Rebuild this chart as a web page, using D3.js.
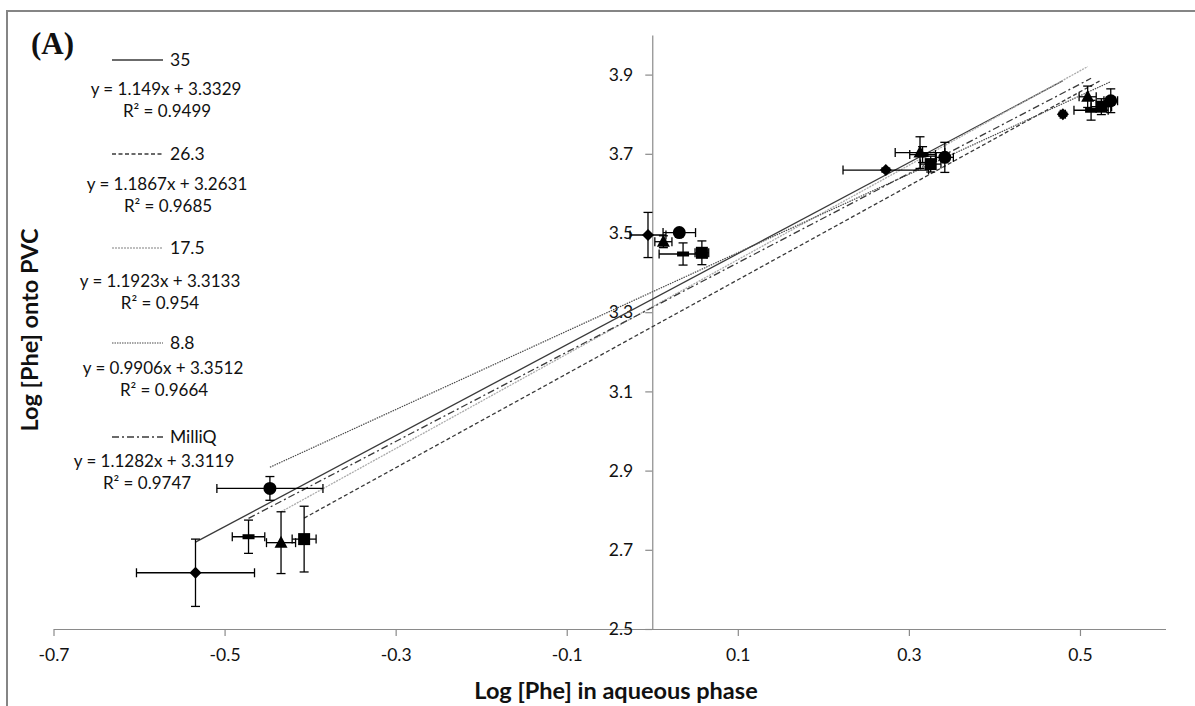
<!DOCTYPE html>
<html><head><meta charset="utf-8">
<script src="https://cdn.jsdelivr.net/npm/d3@7"></script>
<style>
body{margin:0;background:#fff;}
svg{display:block;}
text{fill:#111;}
</style></head>
<body><svg id="c" width="1195" height="706"></svg>
<script>
// ---- data ----
const seriesNames = ["35", "26.3", "17.5", "8.8", "MilliQ"];
const markerTypes = ["diamond", "square", "triangle", "circle", "dash"];
const slopes = [1.149, 1.1867, 1.1923, 0.9906, 1.1282];
const intercepts = [3.3329, 3.2631, 3.3133, 3.3512, 3.3119];
const eqLabels = ["y = 1.149x + 3.3329", "y = 1.1867x + 3.2631", "y = 1.1923x + 3.3133", "y = 0.9906x + 3.3512", "y = 1.1282x + 3.3119"];
const r2Labels = ["R² = 0.9499", "R² = 0.9685", "R² = 0.954", "R² = 0.9664", "R² = 0.9747"];
// x = log aqueous, y = log on PVC, with error bars
const xs35 = [-0.534, -0.005, 0.273, 0.480];
const ys35 = [2.642, 3.495, 3.659, 3.800];
const xe35 = [0.069, 0.021, 0.050, 0.003];
const ye35 = [0.085, 0.057, 0.005, 0.005];
const xs263 = [-0.407, 0.058, 0.3255, 0.525];
const ys263 = [2.727, 3.450, 3.674, 3.819];
const xe263 = [0.014, 0.008, 0.012, 0.012];
const ye263 = [0.083, 0.030, 0.020, 0.020];
const xs175 = [-0.434, 0.013, 0.313, 0.509];
const ys175 = [2.718, 3.478, 3.703, 3.844];
const xe175 = [0.017, 0.010, 0.029, 0.010];
const ye175 = [0.078, 0.015, 0.040, 0.027];
const xs88 = [-0.447, 0.0316, 0.342, 0.536];
const ys88 = [2.855, 3.501, 3.691, 3.834];
const xe88 = [0.062, 0.019, 0.010, 0.008];
const ye88 = [0.030, 0.008, 0.038, 0.030];
const xsMQ = [-0.472, 0.036, 0.316, 0.513];
const ysMQ = [2.733, 3.447, 3.698, 3.810];
const xeMQ = [0.019, 0.028, 0.015, 0.020];
const yeMQ = [0.042, 0.028, 0.020, 0.025];
const xTicks = [-0.7, -0.5, -0.3, -0.1, 0.1, 0.3, 0.5];
const yTicks = [2.5, 2.7, 2.9, 3.1, 3.3, 3.5, 3.7, 3.9];

const seriesX = [xs35, xs263, xs175, xs88, xsMQ];
const seriesY = [ys35, ys263, ys175, ys88, ysMQ];
const seriesXE = [xe35, xe263, xe175, xe88, xeMQ];
const seriesYE = [ye35, ye263, ye175, ye88, yeMQ];

// ---- styles ----
const SANS = "Lato, 'Open Sans', sans-serif";
const lineStyles = [
  {stroke:"#3a3a3a", w:1.3, dash:null},
  {stroke:"#3a3a3a", w:1.3, dash:"4,2.5"},
  {stroke:"#ababab", w:1.3, dash:"2,1"},
  {stroke:"#4a4a4a", w:1.2, dash:"1.5,1"},
  {stroke:"#3a3a3a", w:1.3, dash:"7,3,2,3"}
];

const svg = d3.select("#c");
const x = d3.scaleLinear().domain([-0.7, 0.6]).range([53.5, 1165.5]);
const y = d3.scaleLinear().domain([2.5, 4.0]).range([629, 35]);

// outer border
svg.append("rect").attr("x",7).attr("y",11).attr("width",1200).attr("height",710)
  .attr("fill","none").attr("stroke","#858585").attr("stroke-width",2);

// axes
const xAxis = d3.axisBottom(x).tickValues(xTicks).tickSize(7).tickSizeOuter(0).tickPadding(13)
  .tickFormat(d => d.toFixed(1));
const gx = svg.append("g").attr("transform", `translate(0,${y(2.5)})`).call(xAxis);
const yAxis = d3.axisLeft(y).tickValues(yTicks).tickSize(7).tickSizeOuter(0).tickPadding(12)
  .tickFormat(d => d.toFixed(1));
const gy = svg.append("g").attr("transform", `translate(${x(0)},0)`).call(yAxis);
[gx, gy].forEach(g => {
  g.select(".domain").attr("stroke","#8a8a8a").attr("stroke-width",1.2);
  g.selectAll(".tick line").attr("stroke","#8a8a8a").attr("stroke-width",1.2);
  g.selectAll(".tick text").style("font-family",SANS).attr("font-size",17.5).attr("fill","#111");
});

// trendlines
seriesNames.forEach((n, i) => {
  const xmin = d3.min(seriesX[i]), xmax = d3.max(seriesX[i]);
  const st = lineStyles[i];
  svg.append("line")
    .attr("x1", x(xmin)).attr("y1", y(slopes[i]*xmin + intercepts[i]))
    .attr("x2", x(xmax)).attr("y2", y(slopes[i]*xmax + intercepts[i]))
    .attr("stroke", st.stroke).attr("stroke-width", st.w)
    .attr("stroke-dasharray", st.dash);
});

// error bars + markers
const cap = 4.5;
function drawMarker(g, type, cx, cy) {
  if (type === "diamond") {
    g.append("path").attr("d", `M${cx},${cy-6}L${cx+6},${cy}L${cx},${cy+6}L${cx-6},${cy}Z`).attr("fill","#000");
  } else if (type === "square") {
    g.append("rect").attr("x",cx-6).attr("y",cy-6).attr("width",12).attr("height",12).attr("fill","#000");
  } else if (type === "triangle") {
    g.append("path").attr("d", `M${cx},${cy-7}L${cx+6.5},${cy+5}L${cx-6.5},${cy+5}Z`).attr("fill","#000");
  } else if (type === "circle") {
    g.append("circle").attr("cx",cx).attr("cy",cy).attr("r",6.5).attr("fill","#000");
  } else if (type === "dash") {
    g.append("rect").attr("x",cx-6).attr("y",cy-2.5).attr("width",12).attr("height",5).attr("fill","#000");
  }
}
seriesNames.forEach((n, i) => {
  const g = svg.append("g");
  seriesX[i].forEach((xv, j) => {
    const yv = seriesY[i][j], xe = seriesXE[i][j], ye = seriesYE[i][j];
    const px = x(xv), py = y(yv);
    const eg = g.append("g").attr("stroke","#000").attr("stroke-width",1.3);
    eg.append("line").attr("x1",x(xv-xe)).attr("x2",x(xv+xe)).attr("y1",py).attr("y2",py);
    eg.append("line").attr("x1",x(xv-xe)).attr("x2",x(xv-xe)).attr("y1",py-cap).attr("y2",py+cap);
    eg.append("line").attr("x1",x(xv+xe)).attr("x2",x(xv+xe)).attr("y1",py-cap).attr("y2",py+cap);
    eg.append("line").attr("x1",px).attr("x2",px).attr("y1",y(yv-ye)).attr("y2",y(yv+ye));
    eg.append("line").attr("x1",px-cap).attr("x2",px+cap).attr("y1",y(yv-ye)).attr("y2",y(yv-ye));
    eg.append("line").attr("x1",px-cap).attr("x2",px+cap).attr("y1",y(yv+ye)).attr("y2",y(yv+ye));
  });
  seriesX[i].forEach((xv, j) => drawMarker(g, markerTypes[i], x(xv), y(seriesY[i][j])));
});

// legend (series key + trendline labels)
const legendY = [60, 154, 248, 343, 437];
const eqDy = [29, 30, 33, 25, 24];
const eqCx = [166, 167, 160, 163, 154];
const r2Cx = [167, 168, 160, 164, 147];
seriesNames.forEach((n, i) => {
  const st = lineStyles[i];
  const ly = legendY[i];
  svg.append("line").attr("x1",112).attr("x2",163).attr("y1",ly).attr("y2",ly)
    .attr("stroke", st.stroke).attr("stroke-width", st.w).attr("stroke-dasharray", st.dash);
  svg.append("text").attr("x",170).attr("y",ly).attr("dy","0.35em").style("font-family",SANS)
    .attr("font-size",17.5).text(n);
  svg.append("text").attr("x",eqCx[i]).attr("y",ly+eqDy[i]).attr("dy","0.35em").style("font-family",SANS)
    .attr("text-anchor","middle").attr("font-size",17).text(eqLabels[i]);
  svg.append("text").attr("x",r2Cx[i]).attr("y",ly+eqDy[i]+22).attr("dy","0.35em").style("font-family",SANS)
    .attr("text-anchor","middle").attr("font-size",17).text(r2Labels[i]);
});

// axis titles
svg.append("text").attr("x",616).attr("y",699).attr("text-anchor","middle").style("font-family",SANS)
  .attr("font-weight","bold").attr("font-size",23.5).text("Log [Phe] in aqueous phase");
svg.append("text").attr("transform","translate(38,330) rotate(-90)").attr("text-anchor","middle").style("font-family",SANS)
  .attr("font-weight","bold").attr("font-size",23.5).text("Log [Phe] onto PVC");

// panel label
svg.append("text").attr("x",31).attr("y",54).style("font-family","'Liberation Serif', 'DejaVu Serif', serif")
  .attr("font-weight","bold").attr("font-size",31).attr("fill","#000").text("(A)");
</script>
</body></html>
